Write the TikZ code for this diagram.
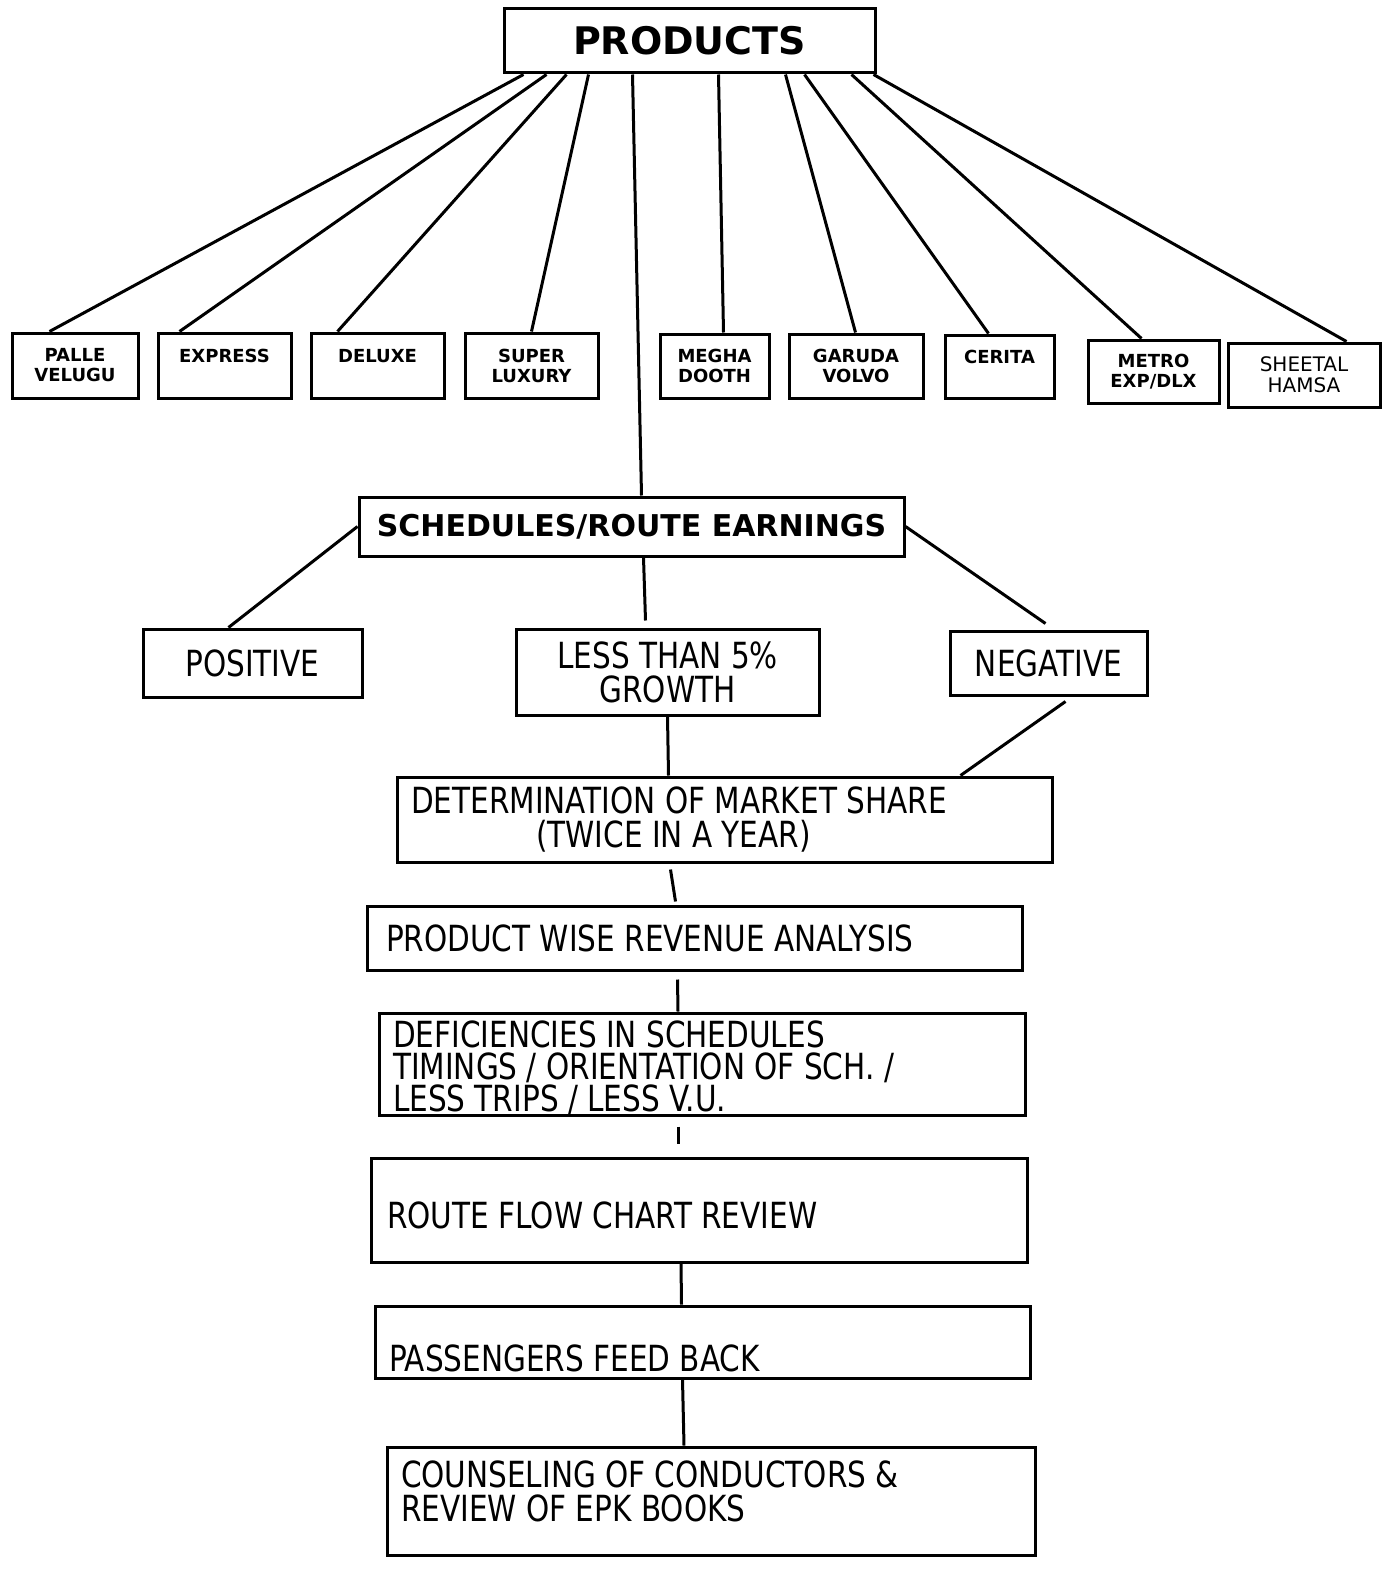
\documentclass[tikz,border=0pt]{standalone}
\usepackage{fontspec}
\setmainfont{DejaVu Sans}
\newfontfamily\stagefont{DejaVu Sans}[FakeStretch=0.82]
\tikzset{
  frame/.style={draw, line width=3pt, inner sep=0pt},
  headbox/.style={frame, font=\bfseries\fontsize{38}{40}\selectfont},
  busbox/.style={frame, align=center, font=\bfseries\fontsize{18}{20}\selectfont},
  stage/.style={frame, inner xsep=14pt, font=\stagefont\fontsize{36}{34}\selectfont},
  link/.style={line width=3pt},
}

\begin{document}
\begin{tikzpicture}[x=1pt,y=-1pt]
  \useasboundingbox (0,0) rectangle (1390,1573);

  % products and the bus services
  \node[headbox, minimum width=371pt, minimum height=64pt] (prod) at (689.5,41) {PRODUCTS};
  \node[busbox, minimum width=126pt, minimum height=65pt] (pv) at (75,365.5) {PALLE\\VELUGU};
  \node[busbox, minimum width=133pt, minimum height=65pt] (ex) at (224.5,365.5) {EXPRESS\\\mbox{}};
  \node[busbox, minimum width=133pt, minimum height=65pt] (dl) at (377.5,365.5) {DELUXE\\\mbox{}};
  \node[busbox, minimum width=133pt, minimum height=65pt] (sl) at (531.5,365.5) {SUPER\\LUXURY};
  \node[busbox, minimum width=109pt, minimum height=64pt] (md) at (714.5,366) {MEGHA\\DOOTH};
  \node[busbox, minimum width=134pt, minimum height=64pt] (gv) at (856,366) {GARUDA\\VOLVO};
  \node[busbox, minimum width=109pt, minimum height=63pt] (ce) at (999.5,366.5) {CERITA\\\mbox{}};
  \node[busbox, minimum width=131pt, minimum height=63pt] (me) at (1153.5,371.5) {METRO\\EXP/DLX};
  \node[busbox, font=\fontsize{20}{21}\selectfont, minimum width=152pt, minimum height=64pt] (sh) at (1304,375) {SHEETAL\\HAMSA};

  \foreach \a/\n/\b in {21/pv/39, 44/ex/23, 64/dl/28, 86/sl/68, 216/md/65,
                        283/gv/68, 302/ce/45, 349/me/55, 371/sh/120}
    \draw[link] ([xshift=\a pt]prod.south west) -- ([xshift=\b pt]\n.north west);

  % earnings review
  \node[headbox, font=\bfseries\fontsize{30}{34}\selectfont, minimum width=545pt, minimum height=59pt] (sched) at (631.5,526.5) {SCHEDULES/ROUTE EARNINGS};
  \node[stage, align=center, minimum width=219pt, minimum height=68pt] (pos) at (252.5,663) {POSITIVE};
  \node[stage, align=center, minimum width=303pt, minimum height=86pt] (less) at (667.5,672) {LESS THAN 5\%\\GROWTH};
  \node[stage, align=center, minimum width=197pt, minimum height=64pt] (neg) at (1048.5,663) {NEGATIVE};

  % steps of the analysis
  \node[stage] (det) at (724.5,819.5) {\parbox[c][85pt][c]{627pt}{DETERMINATION OF MARKET SHARE\\\hspace*{125pt}(TWICE IN A YEAR)}};
  \node[stage] (rev) at (694.5,938) {\parbox[c][64pt][c]{627pt}{\hspace*{5pt}PRODUCT WISE REVENUE ANALYSIS}};
  \node[stage] (def) at (702,1064) {\parbox[c][102pt][t]{618pt}{\fontsize{36}{32}\selectfont\vspace*{8pt}DEFICIENCIES IN SCHEDULES\\TIMINGS / ORIENTATION OF SCH. /\\LESS TRIPS / LESS V.U.}};
  \node[stage] (flow) at (699,1210) {\parbox[c][104pt][b]{628pt}{\hspace*{2pt}\raisebox{34pt}{ROUTE FLOW CHART REVIEW}}};
  \node[stage] (pass) at (702.5,1342) {\parbox[c][72pt][b]{627pt}{\raisebox{7pt}{PASSENGERS FEED BACK}}};
  \node[stage] (coun) at (711,1501) {\parbox[c][108pt][t]{620pt}{\vspace*{14pt}COUNSELING OF CONDUCTORS \&\\REVIEW OF EPK BOOKS}};

  \draw[link] ([xshift=130pt]prod.south west) -- ([xshift=284pt]sched.north west);
  \draw[link] (sched.west) -- ([xshift=87pt]pos.north west);
  \draw[link] (sched.east) -- ([xshift=-3pt,yshift=6pt]neg.north);
  \draw[link] ([xshift=286pt]sched.south west) -- ([xshift=131pt,yshift=7pt]less.north west);
  \draw[link] (less.south) -- ([xshift=273pt]det.north west);
  \draw[link] ([xshift=17pt,yshift=-5pt]neg.south) -- ([xshift=-93pt]det.north east);
  \draw[link] ([xshift=-54pt,yshift=-6pt]det.south) -- ([xshift=-19pt,yshift=3pt]rev.north);
  \draw[link] ([xshift=-17pt,yshift=-8pt]rev.south) -- ([xshift=-24pt]def.north);
  \draw[link] ([xshift=-24pt,yshift=-10pt]def.south) -- ([xshift=-21pt,yshift=13pt]flow.north);
  \draw[link] ([xshift=-18pt]flow.south) -- ([xshift=-21pt]pass.north);
  \draw[link] ([xshift=-20pt]pass.south) -- ([xshift=-27pt]coun.north);
\end{tikzpicture}
\end{document}
